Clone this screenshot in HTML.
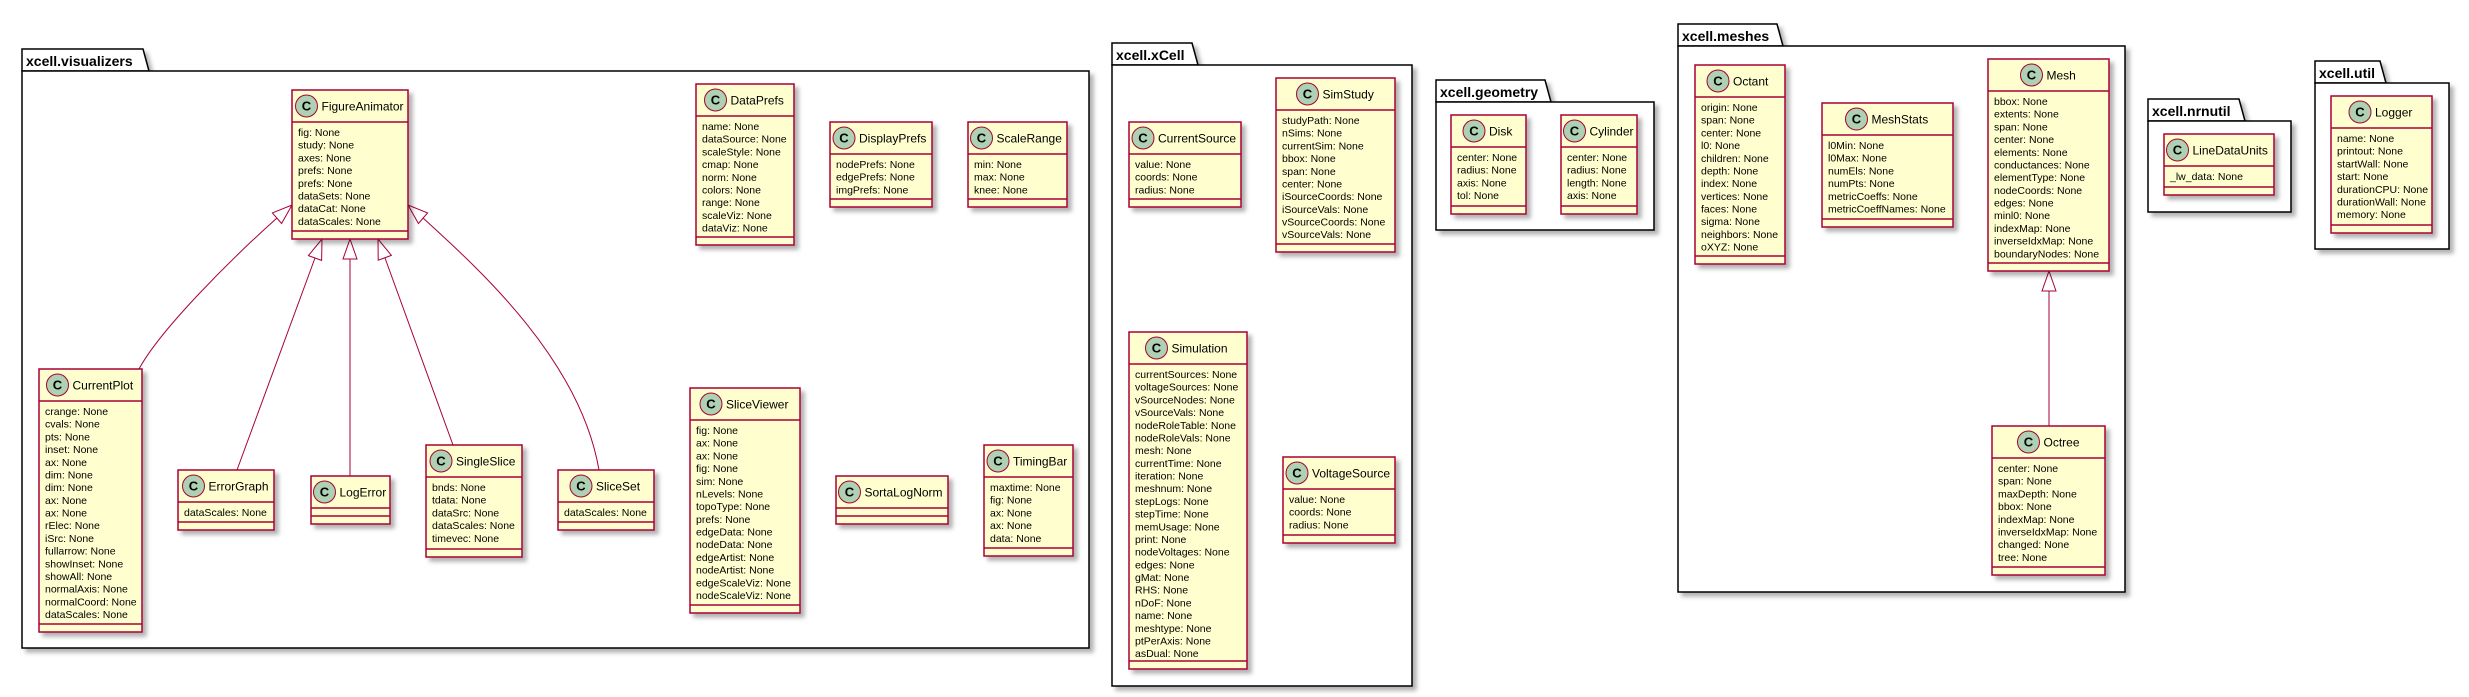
<!DOCTYPE html>
<html><head><meta charset="utf-8"><style>
html,body{margin:0;padding:0;background:#fff;width:2469px;height:697px;overflow:hidden}
svg{display:block}
.b{fill:#FEFECE;stroke:#A80036;stroke-width:1.5}
.l{stroke:#A80036;stroke-width:1.5}
.ci{fill:#ADD1B2;stroke:#A80036;stroke-width:1}
.c{font:bold 13px "Liberation Sans",sans-serif;text-anchor:middle;fill:#000}
.n{font:12px "Liberation Sans",sans-serif;fill:#000}
.a{font:10.5px "Liberation Sans",sans-serif;fill:#000}
.p{fill:#fff;stroke:#000;stroke-width:1.5}
.pt{font:bold 14px "Liberation Sans",sans-serif;fill:#000}
.e{fill:none;stroke:#A80036;stroke-width:1}
.h{fill:#fff;stroke:#A80036;stroke-width:1}
</style></head><body>
<svg width="2469" height="697" xmlns="http://www.w3.org/2000/svg">
<defs><filter id="s" x="-10%" y="-10%" width="130%" height="130%"><feDropShadow dx="4" dy="4" stdDeviation="2" flood-color="#000" flood-opacity="0.3"/></filter></defs>

<g filter="url(#s)">
<polygon class="p" points="22,71 22,49 143,49 149,71"/><rect class="p" x="22" y="71" width="1067" height="577"/>
<polygon class="p" points="1112,65 1112,43 1192,43 1198,65"/><rect class="p" x="1112" y="65" width="300" height="621"/>
<polygon class="p" points="1436,102 1436,80 1545,80 1551,102"/><rect class="p" x="1436" y="102" width="218" height="128"/>
<polygon class="p" points="1678,46 1678,24 1777,24 1783,46"/><rect class="p" x="1678" y="46" width="447" height="546"/>
<polygon class="p" points="2148,121 2148,99 2239,99 2245,121"/><rect class="p" x="2148" y="121" width="143" height="91"/>
<polygon class="p" points="2315,83 2315,61 2380,61 2386,83"/><rect class="p" x="2315" y="83" width="134" height="166"/>
</g>
<text class="pt" x="26" y="66">xcell.visualizers</text>
<text class="pt" x="1116" y="60">xcell.xCell</text>
<text class="pt" x="1440" y="97">xcell.geometry</text>
<text class="pt" x="1682" y="41">xcell.meshes</text>
<text class="pt" x="2152" y="116">xcell.nrnutil</text>
<text class="pt" x="2319" y="78">xcell.util</text>

<path class="e" d="M277,218 C230,260 160,330 139,369"/>
<polygon class="h" points="292,205 281.6,223.5 272.4,212.9"/>
<path class="e" d="M315,258 L237,470"/>
<polygon class="h" points="322,239 321.6,260.4 308.4,255.6"/>
<path class="e" d="M350,259 L350,476"/>
<polygon class="h" points="350,239 357,259 343,259"/>
<path class="e" d="M385,258 L453,445"/>
<polygon class="h" points="378,239 391.4,255.4 378.2,260.2"/>
<path class="e" d="M423,218 C480,270 580,360 599,470"/>
<polygon class="h" points="408,205 418.4,223.5 427.6,212.9"/>
<path class="e" d="M2049,291 L2049,426"/>
<polygon class="h" points="2049,271 2056,291 2042,291"/>

<g transform="translate(292,90)"><rect class="b" width="116" height="149" filter="url(#s)"/><line class="l" x1="0" x2="116" y1="32" y2="32"/><line class="l" x1="0" x2="116" y1="141" y2="141"/><circle class="ci" cx="14.5" cy="16" r="11"/><text class="c" x="14.5" y="20.5">C</text><text class="n" x="29.5" y="20.5">FigureAnimator</text>
<text class="a" y="46"><tspan x="6">fig: None</tspan><tspan x="6" dy="12.69">study: None</tspan><tspan x="6" dy="12.69">axes: None</tspan><tspan x="6" dy="12.69">prefs: None</tspan><tspan x="6" dy="12.69">prefs: None</tspan><tspan x="6" dy="12.69">dataSets: None</tspan><tspan x="6" dy="12.69">dataCat: None</tspan><tspan x="6" dy="12.69">dataScales: None</tspan></text></g>

<g transform="translate(696,84)"><rect class="b" width="98" height="161" filter="url(#s)"/><line class="l" x1="0" x2="98" y1="32" y2="32"/><line class="l" x1="0" x2="98" y1="153" y2="153"/><circle class="ci" cx="19.5" cy="16" r="11"/><text class="c" x="19.5" y="20.5">C</text><text class="n" x="34.5" y="20.5">DataPrefs</text>
<text class="a" y="46"><tspan x="6">name: None</tspan><tspan x="6" dy="12.69">dataSource: None</tspan><tspan x="6" dy="12.69">scaleStyle: None</tspan><tspan x="6" dy="12.69">cmap: None</tspan><tspan x="6" dy="12.69">norm: None</tspan><tspan x="6" dy="12.69">colors: None</tspan><tspan x="6" dy="12.69">range: None</tspan><tspan x="6" dy="12.69">scaleViz: None</tspan><tspan x="6" dy="12.69">dataViz: None</tspan></text></g>

<g transform="translate(830,122)"><rect class="b" width="102" height="85" filter="url(#s)"/><line class="l" x1="0" x2="102" y1="32" y2="32"/><line class="l" x1="0" x2="102" y1="77" y2="77"/><circle class="ci" cx="14" cy="16" r="11"/><text class="c" x="14" y="20.5">C</text><text class="n" x="29" y="20.5">DisplayPrefs</text>
<text class="a" y="46"><tspan x="6">nodePrefs: None</tspan><tspan x="6" dy="12.69">edgePrefs: None</tspan><tspan x="6" dy="12.69">imgPrefs: None</tspan></text></g>

<g transform="translate(968,122)"><rect class="b" width="99" height="85" filter="url(#s)"/><line class="l" x1="0" x2="99" y1="32" y2="32"/><line class="l" x1="0" x2="99" y1="77" y2="77"/><circle class="ci" cx="13.5" cy="16" r="11"/><text class="c" x="13.5" y="20.5">C</text><text class="n" x="28.5" y="20.5">ScaleRange</text>
<text class="a" y="46"><tspan x="6">min: None</tspan><tspan x="6" dy="12.69">max: None</tspan><tspan x="6" dy="12.69">knee: None</tspan></text></g>

<g transform="translate(39,369)"><rect class="b" width="103" height="263" filter="url(#s)"/><line class="l" x1="0" x2="103" y1="32" y2="32"/><line class="l" x1="0" x2="103" y1="255" y2="255"/><circle class="ci" cx="18.5" cy="16" r="11"/><text class="c" x="18.5" y="20.5">C</text><text class="n" x="33.5" y="20.5">CurrentPlot</text>
<text class="a" y="46"><tspan x="6">crange: None</tspan><tspan x="6" dy="12.69">cvals: None</tspan><tspan x="6" dy="12.69">pts: None</tspan><tspan x="6" dy="12.69">inset: None</tspan><tspan x="6" dy="12.69">ax: None</tspan><tspan x="6" dy="12.69">dim: None</tspan><tspan x="6" dy="12.69">dim: None</tspan><tspan x="6" dy="12.69">ax: None</tspan><tspan x="6" dy="12.69">ax: None</tspan><tspan x="6" dy="12.69">rElec: None</tspan><tspan x="6" dy="12.69">iSrc: None</tspan><tspan x="6" dy="12.69">fullarrow: None</tspan><tspan x="6" dy="12.69">showInset: None</tspan><tspan x="6" dy="12.69">showAll: None</tspan><tspan x="6" dy="12.69">normalAxis: None</tspan><tspan x="6" dy="12.69">normalCoord: None</tspan><tspan x="6" dy="12.69">dataScales: None</tspan></text></g>

<g transform="translate(178,470)"><rect class="b" width="96" height="60" filter="url(#s)"/><line class="l" x1="0" x2="96" y1="32" y2="32"/><line class="l" x1="0" x2="96" y1="52" y2="52"/><circle class="ci" cx="15.5" cy="16" r="11"/><text class="c" x="15.5" y="20.5">C</text><text class="n" x="30.5" y="20.5">ErrorGraph</text>
<text class="a" y="46"><tspan x="6">dataScales: None</tspan></text></g>

<g transform="translate(311,476)"><rect class="b" width="79" height="48" filter="url(#s)"/><line class="l" x1="0" x2="79" y1="32" y2="32"/><line class="l" x1="0" x2="79" y1="40" y2="40"/><circle class="ci" cx="13.5" cy="16" r="11"/><text class="c" x="13.5" y="20.5">C</text><text class="n" x="28.5" y="20.5">LogError</text></g>

<g transform="translate(426,445)"><rect class="b" width="96" height="112" filter="url(#s)"/><line class="l" x1="0" x2="96" y1="32" y2="32"/><line class="l" x1="0" x2="96" y1="104" y2="104"/><circle class="ci" cx="15" cy="16" r="11"/><text class="c" x="15" y="20.5">C</text><text class="n" x="30" y="20.5">SingleSlice</text>
<text class="a" y="46"><tspan x="6">bnds: None</tspan><tspan x="6" dy="12.69">tdata: None</tspan><tspan x="6" dy="12.69">dataSrc: None</tspan><tspan x="6" dy="12.69">dataScales: None</tspan><tspan x="6" dy="12.69">timevec: None</tspan></text></g>

<g transform="translate(558,470)"><rect class="b" width="96" height="60" filter="url(#s)"/><line class="l" x1="0" x2="96" y1="32" y2="32"/><line class="l" x1="0" x2="96" y1="52" y2="52"/><circle class="ci" cx="23" cy="16" r="11"/><text class="c" x="23" y="20.5">C</text><text class="n" x="38" y="20.5">SliceSet</text>
<text class="a" y="46"><tspan x="6">dataScales: None</tspan></text></g>

<g transform="translate(690,388)"><rect class="b" width="110" height="225" filter="url(#s)"/><line class="l" x1="0" x2="110" y1="32" y2="32"/><line class="l" x1="0" x2="110" y1="217" y2="217"/><circle class="ci" cx="21" cy="16" r="11"/><text class="c" x="21" y="20.5">C</text><text class="n" x="36" y="20.5">SliceViewer</text>
<text class="a" y="46"><tspan x="6">fig: None</tspan><tspan x="6" dy="12.69">ax: None</tspan><tspan x="6" dy="12.69">ax: None</tspan><tspan x="6" dy="12.69">fig: None</tspan><tspan x="6" dy="12.69">sim: None</tspan><tspan x="6" dy="12.69">nLevels: None</tspan><tspan x="6" dy="12.69">topoType: None</tspan><tspan x="6" dy="12.69">prefs: None</tspan><tspan x="6" dy="12.69">edgeData: None</tspan><tspan x="6" dy="12.69">nodeData: None</tspan><tspan x="6" dy="12.69">edgeArtist: None</tspan><tspan x="6" dy="12.69">nodeArtist: None</tspan><tspan x="6" dy="12.69">edgeScaleViz: None</tspan><tspan x="6" dy="12.69">nodeScaleViz: None</tspan></text></g>

<g transform="translate(836,476)"><rect class="b" width="112" height="48" filter="url(#s)"/><line class="l" x1="0" x2="112" y1="32" y2="32"/><line class="l" x1="0" x2="112" y1="40" y2="40"/><circle class="ci" cx="13.5" cy="16" r="11"/><text class="c" x="13.5" y="20.5">C</text><text class="n" x="28.5" y="20.5">SortaLogNorm</text></g>

<g transform="translate(984,445)"><rect class="b" width="89" height="111" filter="url(#s)"/><line class="l" x1="0" x2="89" y1="32" y2="32"/><line class="l" x1="0" x2="89" y1="103" y2="103"/><circle class="ci" cx="14" cy="16" r="11"/><text class="c" x="14" y="20.5">C</text><text class="n" x="29" y="20.5">TimingBar</text>
<text class="a" y="46"><tspan x="6">maxtime: None</tspan><tspan x="6" dy="12.69">fig: None</tspan><tspan x="6" dy="12.69">ax: None</tspan><tspan x="6" dy="12.69">ax: None</tspan><tspan x="6" dy="12.69">data: None</tspan></text></g>

<g transform="translate(1129,122)"><rect class="b" width="112" height="85" filter="url(#s)"/><line class="l" x1="0" x2="112" y1="32" y2="32"/><line class="l" x1="0" x2="112" y1="77" y2="77"/><circle class="ci" cx="14" cy="16" r="11"/><text class="c" x="14" y="20.5">C</text><text class="n" x="29" y="20.5">CurrentSource</text>
<text class="a" y="46"><tspan x="6">value: None</tspan><tspan x="6" dy="12.69">coords: None</tspan><tspan x="6" dy="12.69">radius: None</tspan></text></g>

<g transform="translate(1276,78)"><rect class="b" width="119" height="174" filter="url(#s)"/><line class="l" x1="0" x2="119" y1="32" y2="32"/><line class="l" x1="0" x2="119" y1="166" y2="166"/><circle class="ci" cx="31.5" cy="16" r="11"/><text class="c" x="31.5" y="20.5">C</text><text class="n" x="46.5" y="20.5">SimStudy</text>
<text class="a" y="46"><tspan x="6">studyPath: None</tspan><tspan x="6" dy="12.69">nSims: None</tspan><tspan x="6" dy="12.69">currentSim: None</tspan><tspan x="6" dy="12.69">bbox: None</tspan><tspan x="6" dy="12.69">span: None</tspan><tspan x="6" dy="12.69">center: None</tspan><tspan x="6" dy="12.69">iSourceCoords: None</tspan><tspan x="6" dy="12.69">iSourceVals: None</tspan><tspan x="6" dy="12.69">vSourceCoords: None</tspan><tspan x="6" dy="12.69">vSourceVals: None</tspan></text></g>

<g transform="translate(1129,332)"><rect class="b" width="118" height="337" filter="url(#s)"/><line class="l" x1="0" x2="118" y1="32" y2="32"/><line class="l" x1="0" x2="118" y1="329" y2="329"/><circle class="ci" cx="27.5" cy="16" r="11"/><text class="c" x="27.5" y="20.5">C</text><text class="n" x="42.5" y="20.5">Simulation</text>
<text class="a" y="46"><tspan x="6">currentSources: None</tspan><tspan x="6" dy="12.69">voltageSources: None</tspan><tspan x="6" dy="12.69">vSourceNodes: None</tspan><tspan x="6" dy="12.69">vSourceVals: None</tspan><tspan x="6" dy="12.69">nodeRoleTable: None</tspan><tspan x="6" dy="12.69">nodeRoleVals: None</tspan><tspan x="6" dy="12.69">mesh: None</tspan><tspan x="6" dy="12.69">currentTime: None</tspan><tspan x="6" dy="12.69">iteration: None</tspan><tspan x="6" dy="12.69">meshnum: None</tspan><tspan x="6" dy="12.69">stepLogs: None</tspan><tspan x="6" dy="12.69">stepTime: None</tspan><tspan x="6" dy="12.69">memUsage: None</tspan><tspan x="6" dy="12.69">print: None</tspan><tspan x="6" dy="12.69">nodeVoltages: None</tspan><tspan x="6" dy="12.69">edges: None</tspan><tspan x="6" dy="12.69">gMat: None</tspan><tspan x="6" dy="12.69">RHS: None</tspan><tspan x="6" dy="12.69">nDoF: None</tspan><tspan x="6" dy="12.69">name: None</tspan><tspan x="6" dy="12.69">meshtype: None</tspan><tspan x="6" dy="12.69">ptPerAxis: None</tspan><tspan x="6" dy="12.69">asDual: None</tspan></text></g>

<g transform="translate(1283,457)"><rect class="b" width="112" height="86" filter="url(#s)"/><line class="l" x1="0" x2="112" y1="32" y2="32"/><line class="l" x1="0" x2="112" y1="78" y2="78"/><circle class="ci" cx="14" cy="16" r="11"/><text class="c" x="14" y="20.5">C</text><text class="n" x="29" y="20.5">VoltageSource</text>
<text class="a" y="46"><tspan x="6">value: None</tspan><tspan x="6" dy="12.69">coords: None</tspan><tspan x="6" dy="12.69">radius: None</tspan></text></g>

<g transform="translate(1451,115)"><rect class="b" width="75" height="99" filter="url(#s)"/><line class="l" x1="0" x2="75" y1="32" y2="32"/><line class="l" x1="0" x2="75" y1="91" y2="91"/><circle class="ci" cx="23" cy="16" r="11"/><text class="c" x="23" y="20.5">C</text><text class="n" x="38" y="20.5">Disk</text>
<text class="a" y="46"><tspan x="6">center: None</tspan><tspan x="6" dy="12.69">radius: None</tspan><tspan x="6" dy="12.69">axis: None</tspan><tspan x="6" dy="12.69">tol: None</tspan></text></g>

<g transform="translate(1561,115)"><rect class="b" width="76" height="99" filter="url(#s)"/><line class="l" x1="0" x2="76" y1="32" y2="32"/><line class="l" x1="0" x2="76" y1="91" y2="91"/><circle class="ci" cx="13.5" cy="16" r="11"/><text class="c" x="13.5" y="20.5">C</text><text class="n" x="28.5" y="20.5">Cylinder</text>
<text class="a" y="46"><tspan x="6">center: None</tspan><tspan x="6" dy="12.69">radius: None</tspan><tspan x="6" dy="12.69">length: None</tspan><tspan x="6" dy="12.69">axis: None</tspan></text></g>

<g transform="translate(1695,65)"><rect class="b" width="90" height="199" filter="url(#s)"/><line class="l" x1="0" x2="90" y1="32" y2="32"/><line class="l" x1="0" x2="90" y1="191" y2="191"/><circle class="ci" cx="23" cy="16" r="11"/><text class="c" x="23" y="20.5">C</text><text class="n" x="38" y="20.5">Octant</text>
<text class="a" y="46"><tspan x="6">origin: None</tspan><tspan x="6" dy="12.69">span: None</tspan><tspan x="6" dy="12.69">center: None</tspan><tspan x="6" dy="12.69">l0: None</tspan><tspan x="6" dy="12.69">children: None</tspan><tspan x="6" dy="12.69">depth: None</tspan><tspan x="6" dy="12.69">index: None</tspan><tspan x="6" dy="12.69">vertices: None</tspan><tspan x="6" dy="12.69">faces: None</tspan><tspan x="6" dy="12.69">sigma: None</tspan><tspan x="6" dy="12.69">neighbors: None</tspan><tspan x="6" dy="12.69">oXYZ: None</tspan></text></g>

<g transform="translate(1822,103)"><rect class="b" width="131" height="124" filter="url(#s)"/><line class="l" x1="0" x2="131" y1="32" y2="32"/><line class="l" x1="0" x2="131" y1="116" y2="116"/><circle class="ci" cx="34.5" cy="16" r="11"/><text class="c" x="34.5" y="20.5">C</text><text class="n" x="49.5" y="20.5">MeshStats</text>
<text class="a" y="46"><tspan x="6">l0Min: None</tspan><tspan x="6" dy="12.69">l0Max: None</tspan><tspan x="6" dy="12.69">numEls: None</tspan><tspan x="6" dy="12.69">numPts: None</tspan><tspan x="6" dy="12.69">metricCoeffs: None</tspan><tspan x="6" dy="12.69">metricCoeffNames: None</tspan></text></g>

<g transform="translate(1988,59)"><rect class="b" width="121" height="212" filter="url(#s)"/><line class="l" x1="0" x2="121" y1="32" y2="32"/><line class="l" x1="0" x2="121" y1="204" y2="204"/><circle class="ci" cx="43.5" cy="16" r="11"/><text class="c" x="43.5" y="20.5">C</text><text class="n" x="58.5" y="20.5">Mesh</text>
<text class="a" y="46"><tspan x="6">bbox: None</tspan><tspan x="6" dy="12.69">extents: None</tspan><tspan x="6" dy="12.69">span: None</tspan><tspan x="6" dy="12.69">center: None</tspan><tspan x="6" dy="12.69">elements: None</tspan><tspan x="6" dy="12.69">conductances: None</tspan><tspan x="6" dy="12.69">elementType: None</tspan><tspan x="6" dy="12.69">nodeCoords: None</tspan><tspan x="6" dy="12.69">edges: None</tspan><tspan x="6" dy="12.69">minl0: None</tspan><tspan x="6" dy="12.69">indexMap: None</tspan><tspan x="6" dy="12.69">inverseIdxMap: None</tspan><tspan x="6" dy="12.69">boundaryNodes: None</tspan></text></g>

<g transform="translate(1992,426)"><rect class="b" width="113" height="149" filter="url(#s)"/><line class="l" x1="0" x2="113" y1="32" y2="32"/><line class="l" x1="0" x2="113" y1="141" y2="141"/><circle class="ci" cx="36.5" cy="16" r="11"/><text class="c" x="36.5" y="20.5">C</text><text class="n" x="51.5" y="20.5">Octree</text>
<text class="a" y="46"><tspan x="6">center: None</tspan><tspan x="6" dy="12.69">span: None</tspan><tspan x="6" dy="12.69">maxDepth: None</tspan><tspan x="6" dy="12.69">bbox: None</tspan><tspan x="6" dy="12.69">indexMap: None</tspan><tspan x="6" dy="12.69">inverseIdxMap: None</tspan><tspan x="6" dy="12.69">changed: None</tspan><tspan x="6" dy="12.69">tree: None</tspan></text></g>

<g transform="translate(2164,134)"><rect class="b" width="110" height="61" filter="url(#s)"/><line class="l" x1="0" x2="110" y1="32" y2="32"/><line class="l" x1="0" x2="110" y1="53" y2="53"/><circle class="ci" cx="13.5" cy="16" r="11"/><text class="c" x="13.5" y="20.5">C</text><text class="n" x="28.5" y="20.5">LineDataUnits</text>
<text class="a" y="46"><tspan x="6">_lw_data: None</tspan></text></g>

<g transform="translate(2331,96)"><rect class="b" width="101" height="137" filter="url(#s)"/><line class="l" x1="0" x2="101" y1="32" y2="32"/><line class="l" x1="0" x2="101" y1="129" y2="129"/><circle class="ci" cx="29" cy="16" r="11"/><text class="c" x="29" y="20.5">C</text><text class="n" x="44" y="20.5">Logger</text>
<text class="a" y="46"><tspan x="6">name: None</tspan><tspan x="6" dy="12.69">printout: None</tspan><tspan x="6" dy="12.69">startWall: None</tspan><tspan x="6" dy="12.69">start: None</tspan><tspan x="6" dy="12.69">durationCPU: None</tspan><tspan x="6" dy="12.69">durationWall: None</tspan><tspan x="6" dy="12.69">memory: None</tspan></text></g>
</svg>
</body></html>
